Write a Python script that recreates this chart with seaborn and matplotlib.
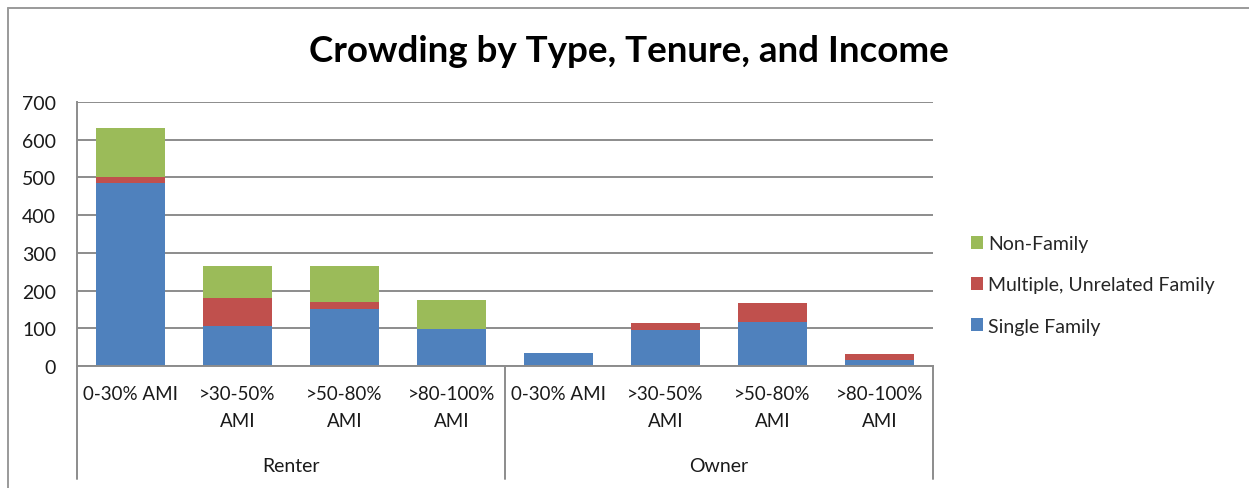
import matplotlib
matplotlib.use("Agg")
import matplotlib.pyplot as plt
import matplotlib.transforms as mtransforms
from matplotlib.lines import Line2D
from matplotlib.patches import Patch
import numpy as np
import pandas as pd
import seaborn as sns

# ---- data ----
tenure = ["Renter"] * 4 + ["Owner"] * 4
income = ["0-30% AMI", ">30-50%\nAMI", ">50-80%\nAMI", ">80-100%\nAMI"] * 2
single_family = [485, 107, 152, 99, 35, 95, 117, 15]
multiple_family = [15, 72, 19, 0, 0, 18, 49, 16]
non_family = [130, 85, 93, 76, 0, 0, 0, 0]
series_names = ["Single Family", "Multiple, Unrelated Family", "Non-Family"]
series_colors = ["#4F81BD", "#C0504D", "#9BBB59"]
y_ticks = [0, 100, 200, 300, 400, 500, 600, 700]

df = pd.DataFrame({
    "key": [f"{t}|{i}" for t, i in zip(tenure, income)],
    "tenure": tenure,
    "income": income,
    "Single Family": single_family,
    "Multiple, Unrelated Family": multiple_family,
    "Non-Family": non_family,
})

sns.set_theme(style="white")
plt.rcParams["font.family"] = ["Lato", "DejaVu Sans"]

W, H = 1249, 489
fig = plt.figure(figsize=(W / 100, H / 100), dpi=100)
ax = fig.add_axes([77 / W, 1 - 367 / H, (933 - 77) / W, (367 - 103) / H])

order = list(df["key"])
bottom = np.zeros(len(df))
for name, color in zip(series_names, series_colors):
    sns.barplot(data=df, x="key", y=name, order=order, color=color,
                bottom=bottom, width=0.64, saturation=1, ax=ax,
                linewidth=0, edgecolor="none")
    bottom = bottom + df[name].to_numpy()

text_c = "#1A1A1A"
ax.set_xlim(-0.5, len(df) - 0.5)
ax.set_ylim(0, 700)
ax.set_yticks(y_ticks)
ax.set_yticklabels([str(v) for v in y_ticks], fontsize=14, color=text_c)
ax.set_xlabel("")
ax.set_ylabel("")

grid_color = "#8C8C8C"
ax.yaxis.grid(True, color=grid_color, linewidth=1.4)
ax.set_axisbelow(True)
for s in ["top", "right"]:
    ax.spines[s].set_visible(False)
for s in ["left", "bottom"]:
    ax.spines[s].set_color(grid_color)
    ax.spines[s].set_linewidth(1.4)
ax.tick_params(axis="y", length=0, pad=15)

ax.set_xticks(range(len(df)))
ax.set_xticklabels(df["income"], fontsize=13.5, color=text_c, va="top")
ax.tick_params(axis="x", length=0, pad=14)
for lbl in ax.get_xticklabels():
    lbl.set_linespacing(1.7)

# group labels and separators below the category axis
trans = mtransforms.blended_transform_factory(ax.transData, ax.transAxes)
axis_h = 367 - 103
for x in [-0.5, 3.5, len(df) - 0.5]:
    ax.add_line(Line2D([x, x], [0, -(480 - 367) / axis_h], transform=trans,
                       color=grid_color, linewidth=1.4, clip_on=False))
for grp in ["Renter", "Owner"]:
    idx = [i for i, t in enumerate(tenure) if t == grp]
    ax.text(np.mean(idx), -(467 - 367) / axis_h, grp, transform=trans,
            ha="center", va="center", fontsize=14, color=text_c)

# title
fig.text(629 / W, 1 - 52 / H, "Crowding by Type, Tenure, and Income",
         ha="center", va="center", fontsize=26.5, fontweight="bold", color="#000000")

# legend (top-to-bottom reversed stacking order)
handles = [Patch(facecolor=c, edgecolor="none") for c in series_colors][::-1]
labels = series_names[::-1]
fig.legend(handles, labels, loc="center left",
           bbox_to_anchor=(961 / W, 1 - 286 / H), frameon=False,
           fontsize=14, handlelength=0.65, handleheight=0.65,
           handletextpad=0.25, labelspacing=1.25, borderpad=0)

# chart frame
frame_c = "#9A9A9A"
fig.add_artist(Line2D([8 / W, 8 / W], [0, 1 - 9 / H], transform=fig.transFigure,
                      color=frame_c, linewidth=1.4))
fig.add_artist(Line2D([8 / W, 1], [1 - 9 / H, 1 - 9 / H], transform=fig.transFigure,
                      color=frame_c, linewidth=1.4))

fig.savefig("out.png", dpi=100, facecolor="white")
